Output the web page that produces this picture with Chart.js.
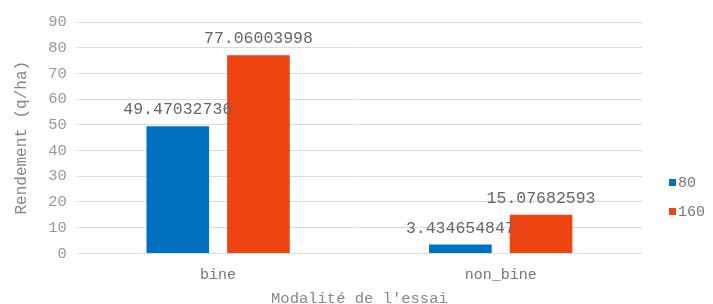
<!DOCTYPE html>
<html><head><meta charset="utf-8">
<script src="https://cdn.jsdelivr.net/npm/chart.js@4/dist/chart.umd.min.js"></script>
<style>html,body{margin:0;padding:0;background:#fff}canvas{display:block}</style>
</head><body>
<canvas id="c" width="713" height="304"></canvas>
<script>
const categories = ["bine", "non_bine"];
const seriesNames = ["80", "160"];
const values80 = [49.47032736, 3.434654847];
const values160 = [77.06003998, 15.07682593];
const labels80 = ["49.47032736", "3.434654847"];
const labels160 = ["77.06003998", "15.07682593"];
const yTicks = [0, 10, 20, 30, 40, 50, 60, 70, 80, 90];

const FONT = "'Liberation Mono', 'DejaVu Sans Mono', monospace";
const textLabels = [labels80, labels160];

const valueLabelPlugin = {
  id: 'valueLabels',
  afterDatasetsDraw(chart) {
    const ctx = chart.ctx;
    ctx.save();
    ctx.font = "16.5px " + FONT;
    ctx.fillStyle = "#666";
    ctx.textAlign = "center";
    ctx.textBaseline = "alphabetic";
    chart.data.datasets.forEach((ds, di) => {
      chart.getDatasetMeta(di).data.forEach((bar, i) => {
        ctx.fillText(textLabels[di][i], bar.x, bar.y - 12);
      });
    });
    ctx.restore();
  }
};

const sideLegendPlugin = {
  id: 'sideLegend',
  afterDraw(chart) {
    const ctx = chart.ctx;
    ctx.save();
    ctx.font = "15px " + FONT;
    ctx.textBaseline = "middle";
    ctx.textAlign = "left";
    const x = chart.chartArea.right + 27;
    const y0 = 182, step = 29;
    chart.data.datasets.forEach((ds, di) => {
      const y = y0 + di * step;
      ctx.fillStyle = ds.backgroundColor;
      ctx.fillRect(x, y - 3, 7, 7);
      ctx.fillStyle = "#777";
      ctx.fillText(ds.label, x + 9, y + 1);
    });
    ctx.restore();
  }
};

new Chart(document.getElementById('c'), {
  type: 'bar',
  data: {
    labels: categories,
    datasets: [
      { label: seriesNames[0], data: values80, backgroundColor: '#0070c0' },
      { label: seriesNames[1], data: values160, backgroundColor: '#ee4412' }
    ]
  },
  options: {
    responsive: false,
    animation: false,
    devicePixelRatio: 1,
    layout: { padding: { top: 22, right: 71, left: 12, bottom: -4 } },
    datasets: { bar: { categoryPercentage: 0.571, barPercentage: 0.776 } },
    plugins: {
      legend: { display: false },
      tooltip: { enabled: false }
    },
    scales: {
      x: {
        grid: { display: false },
        border: { display: false },
        ticks: { font: { family: FONT, size: 15 }, color: '#777', padding: 5 },
        title: { display: true, text: "Modalité de l'essai", font: { family: FONT, size: 15.5 }, color: '#888', padding: { top: 0, bottom: 0 } }
      },
      y: {
        min: 0, max: 90,
        afterBuildTicks(axis) { axis.ticks = yTicks.map(v => ({ value: v })); },
        grid: { color: '#dcdcdc', drawTicks: false },
        border: { display: false },
        ticks: { font: { family: FONT, size: 15.5 }, color: '#999', padding: 10 },
        title: { display: true, text: "Rendement (q/ha)", font: { family: FONT, size: 16 }, color: '#888', padding: { top: 0, bottom: 7 } }
      }
    }
  },
  plugins: [valueLabelPlugin, sideLegendPlugin]
});
</script>
</body></html>
